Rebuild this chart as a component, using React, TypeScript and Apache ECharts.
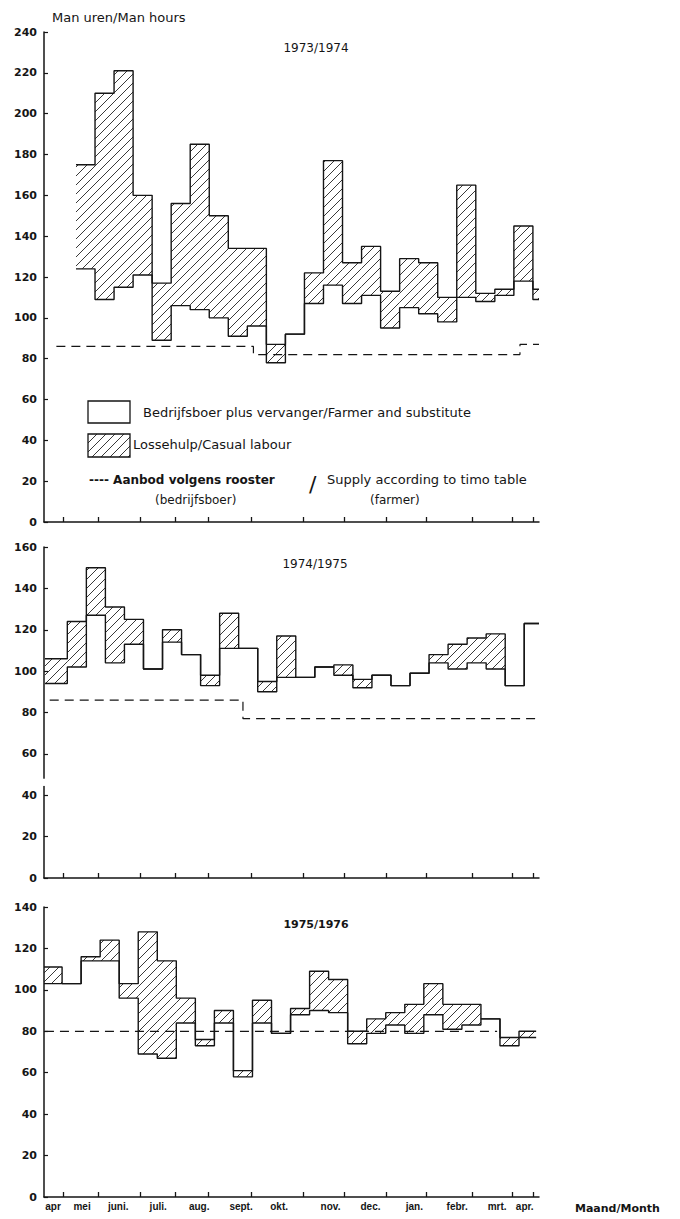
import React, { useEffect, useRef } from "react";
import * as echarts from "echarts";

// ---------- DATA ----------
const AX_MAX = 52; // weeks from mid-April to mid-April

const monthNames = ["apr", "mei", "juni.", "juli.", "aug.", "sept.", "okt.", "nov.", "dec.", "jan.", "febr.", "mrt.", "apr."];
const monthLabelWeeks = [0.95, 4.0, 7.8, 12.0, 16.3, 20.7, 24.7, 30.1, 34.3, 38.9, 43.4, 47.6, 50.5];
const monthTickWeeks = [2.0, 5.7, 10.1, 13.8, 17.3, 21.8, 27.2, 31.5, 36.0, 40.2, 45.0, 49.2, 51.4];

const panelTitles = ["1973/1974", "1974/1975", "1975/1976"];
const yMax = [240, 160, 140];

// two-weekly periods: total man hours (farmer + casual) and farmer + substitute
const total73 = [175, 210, 221, 160, 117, 156, 185, 150, 134, 134, 87, 92, 122, 177, 127, 135, 113, 129, 127, 110, 165, 112, 114, 145, 114];
const farmer73 = [124, 109, 115, 121, 89, 106, 104, 100, 91, 96, 78, 92, 107, 116, 107, 111, 95, 105, 102, 98, 110, 108, 111, 118, 109];

const total74 = [106, 124, 150, 131, 125, 101, 120, 108, 98, 128, 111, 95, 117, 97, 102, 103, 96, 98, 93, 99, 108, 113, 116, 118, 93, 123];
const farmer74 = [94, 102, 127, 104, 113, 101, 114, 108, 93, 111, 111, 90, 97, 97, 102, 98, 92, 98, 93, 99, 104, 101, 104, 101, 93, 123];

const total75 = [111, 103, 116, 124, 103, 128, 114, 96, 76, 90, 61, 95, 79, 91, 109, 105, 80, 86, 89, 93, 103, 93, 93, 86, 77, 80];
const farmer75 = [103, 103, 114, 114, 96, 69, 67, 84, 73, 84, 58, 84, 79, 88, 90, 89, 74, 79, 83, 79, 88, 81, 83, 86, 73, 77];

// period timing (weeks): first period start, phase of the 2-week boundaries, last period end
const periodStart = [3.36, 0.1, 0];
const periodPhase = [3.36, 0.45, -0.1];
const periodEnd = [52, 52, 51.7];

// supply according to time table (farmer)
const supply73Weeks = [1.3, 22.0, 50.0, 52.0];
const supply73Hours = [86, 82, 87];
const supply74Weeks = [0.6, 20.9, 51.8];
const supply74Hours = [86, 77];
const supply75Weeks = [0.1, 47.6];
const supply75Hours = [80];

const totals = [total73, total74, total75];
const farmers = [farmer73, farmer74, farmer75];
const supplyWeeks = [supply73Weeks, supply74Weeks, supply75Weeks];
const supplyHours = [supply73Hours, supply74Hours, supply75Hours];

// ---------- LAYOUT ----------
const GRIDS = [
  { left: 44, top: 32, width: 495, height: 490 },
  { left: 44, top: 547, width: 495, height: 331 },
  { left: 44, top: 907, width: 495, height: 290 },
];
const INK = "#151515";

function edges(start: number, phase: number, end: number, n: number) {
  const e = [start];
  for (let k = 1; k < n; k++) e.push(phase + 2 * k);
  e.push(end);
  return e;
}
function stepData(xs: number[], vals: number[]) {
  return xs.map((x, i) => [x, vals[Math.min(i, vals.length - 1)]]);
}

function makeHatch(size: number) {
  const c = document.createElement("canvas");
  c.width = size;
  c.height = size;
  const ctx = c.getContext("2d")!;
  ctx.strokeStyle = "#222";
  ctx.lineWidth = 0.9;
  ctx.beginPath();
  ctx.moveTo(0, size);
  ctx.lineTo(size, 0);
  ctx.moveTo(-2, 2);
  ctx.lineTo(2, -2);
  ctx.moveTo(size - 2, size + 2);
  ctx.lineTo(size + 2, size - 2);
  ctx.stroke();
  return { image: c.toDataURL(), repeat: "repeat", imageWidth: size, imageHeight: size } as any;
}

export default function App() {
  const ref = useRef<HTMLDivElement>(null);
  useEffect(() => {
    if (!ref.current) return;
    const chart = echarts.init(ref.current, undefined, { renderer: "svg" });
    const hatch = makeHatch(9);

    const xAxis: any[] = [];
    const yAxis: any[] = [];
    const series: any[] = [];
    for (let i = 0; i < 3; i++) {
      xAxis.push({
        type: "value",
        gridIndex: i,
        min: 0,
        max: AX_MAX,
        axisLine: { show: true, onZero: false, lineStyle: { color: INK, width: 1.5 } },
        axisTick: { show: true, inside: true, length: 5, customValues: monthTickWeeks, lineStyle: { color: INK, width: 1.3 } },
        axisLabel:
          i === 2
            ? {
                show: true,
                customValues: monthLabelWeeks,
                margin: 4,
                fontWeight: "bold",
                fontSize: 10,
                fontFamily: "Liberation Sans",
                color: INK,
                formatter: (v: number) => {
                  let best = 0;
                  for (let k = 0; k < monthLabelWeeks.length; k++)
                    if (Math.abs(monthLabelWeeks[k] - v) < Math.abs(monthLabelWeeks[best] - v)) best = k;
                  return monthNames[best];
                },
              }
            : { show: false },
        splitLine: { show: false },
      });
      yAxis.push({
        type: "value",
        gridIndex: i,
        min: 0,
        max: yMax[i],
        interval: 20,
        axisLine: { show: true, lineStyle: { color: INK, width: 1.5 } },
        axisTick: { show: true, inside: true, length: 4, lineStyle: { color: INK, width: 1.2 } },
        axisLabel: { fontWeight: "bold", fontSize: 11, fontFamily: "DejaVu Sans", color: INK, margin: 7 },
        splitLine: { show: false },
      });

      const n = totals[i].length;
      const xs = edges(periodStart[i], periodPhase[i], periodEnd[i], n);
      const blocks = totals[i].map((t, k) => [xs[k], xs[k + 1], farmers[i][k], t]);
      series.push({
        name: "Lossehulp",
        type: "custom",
        xAxisIndex: i,
        yAxisIndex: i,
        clip: true,
        z: 1,
        data: blocks,
        encode: { x: [0, 1], y: [2, 3] },
        renderItem: (params: any, api: any) => {
          const p0 = api.coord([api.value(0), api.value(3)]);
          const p1 = api.coord([api.value(1), api.value(2)]);
          return {
            type: "rect",
            shape: { x: p0[0], y: p0[1], width: p1[0] - p0[0], height: p1[1] - p0[1] },
            style: { fill: hatch, stroke: null },
          };
        },
      });
      series.push({
        name: "Bedrijfsboer plus vervanger",
        type: "line",
        xAxisIndex: i,
        yAxisIndex: i,
        step: "end",
        symbol: "none",
        z: 3,
        data: stepData(xs, farmers[i]),
        lineStyle: { color: INK, width: 1.4 },
      });
      series.push({
        name: "Totaal",
        type: "line",
        xAxisIndex: i,
        yAxisIndex: i,
        step: "end",
        symbol: "none",
        z: 3,
        data: stepData(xs, totals[i]),
        lineStyle: { color: INK, width: 1.4 },
      });
      series.push({
        name: "Aanbod volgens rooster",
        type: "line",
        xAxisIndex: i,
        yAxisIndex: i,
        step: "end",
        symbol: "none",
        z: 2,
        data: stepData(supplyWeeks[i], supplyHours[i]),
        lineStyle: { color: INK, width: 1.2, type: [9, 6] },
      });
    }

    const g2 = GRIDS[1];
    const yPix2 = (v: number) => g2.top + ((yMax[1] - v) / yMax[1]) * g2.height;

    const txt = (x: number, y: number, text: string, font: string, align = "left") => ({
      type: "text",
      x,
      y,
      style: { text, font, fill: INK, textAlign: align, textVerticalAlign: "middle" },
    });

    const graphic: any[] = [
      txt(52, 17, "Man uren/Man hours", '13px "DejaVu Sans"'),
      txt(316, 48, panelTitles[0], '12px "DejaVu Sans"', "center"),
      txt(315, 564, panelTitles[1], '12px "DejaVu Sans"', "center"),
      txt(316, 924, panelTitles[2], 'bold 11px "DejaVu Sans"', "center"),
      {
        type: "rect",
        shape: { x: 88, y: 401, width: 42, height: 22 },
        style: { fill: "#fff", stroke: INK, lineWidth: 1.3 },
      },
      txt(143, 412, "Bedrijfsboer plus vervanger/Farmer and substitute", '13px "DejaVu Sans"'),
      {
        type: "rect",
        shape: { x: 88, y: 434, width: 42, height: 23 },
        style: { fill: hatch, stroke: INK, lineWidth: 1.3 },
      },
      txt(133, 444, "Lossehulp/Casual labour", '13px "DejaVu Sans"'),
      txt(89, 480, "---- Aanbod volgens rooster", 'bold 12px "DejaVu Sans"'),
      txt(309, 484, "/", '22px "DejaVu Sans"'),
      txt(327, 479, "Supply according to timo table", '13px "DejaVu Sans"'),
      txt(155, 500, "(bedrijfsboer)", '12px "DejaVu Sans"'),
      txt(370, 500, "(farmer)", '12px "DejaVu Sans"'),
      txt(575, 1208, "Maand/Month", 'bold 11px "DejaVu Sans"'),
      {
        type: "rect",
        shape: { x: 40, y: yPix2(48), width: 8, height: yPix2(44.5) - yPix2(48) },
        style: { fill: "#fff" },
        z: 100,
      },
    ];

    chart.setOption({
      animation: false,
      backgroundColor: "#fff",
      grid: GRIDS.map((g) => ({ ...g, containLabel: false })),
      xAxis,
      yAxis,
      series,
      graphic,
    });
    return () => chart.dispose();
  }, []);
  return (
    <div
      ref={ref}
      style={{ position: "absolute", left: 0, top: 0, width: 680, height: 1219, background: "#fff" }}
    />
  );
}
